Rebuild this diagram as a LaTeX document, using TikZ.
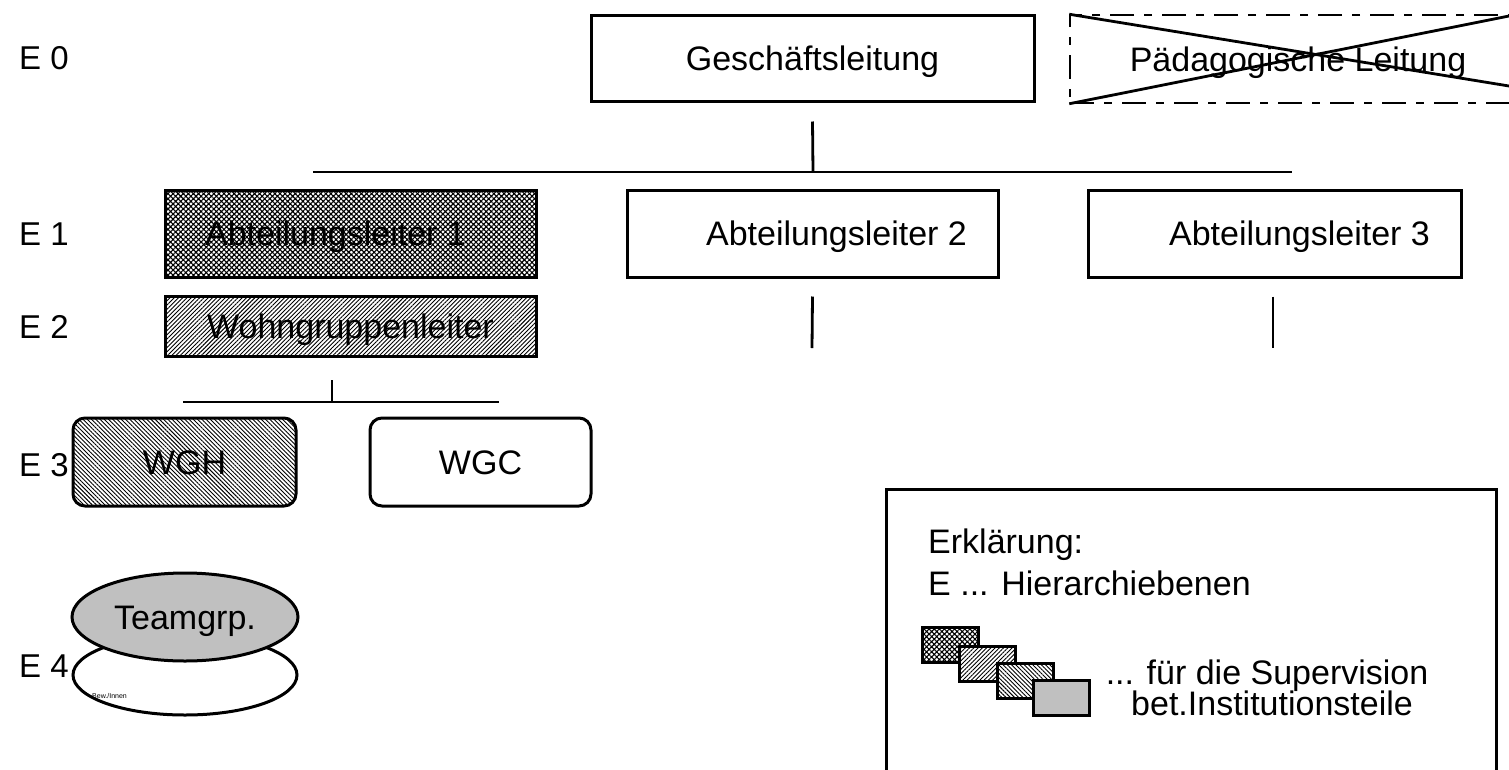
\documentclass[tikz,border=0pt]{standalone}
\usepackage{fontspec}
\setmainfont{Liberation Sans}
\usetikzlibrary{patterns.meta,shapes.geometric}
\definecolor{silver}{HTML}{C0C0C0}
\begin{document}
\begin{tikzpicture}[x=1pt,y=-1pt,
  every node/.style={font=\fontsize{34}{31}\selectfont, inner sep=0pt},
  box/.style={draw, line width=3pt, text height=24pt, text depth=0pt},
  conn/.style={line width=2.8pt},
  lvl/.style={anchor=base west, font=\fontsize{33}{31}\selectfont},
  xhatch/.style={pattern={Hatch[angle=45,distance=3.6pt,line width=1.1pt]}},
  nehatch/.style={pattern={Lines[angle=45,distance=3pt,line width=0.9pt]}},
  nwhatch/.style={pattern={Lines[angle=-45,distance=3pt,line width=0.9pt]}},
  swatch/.style={draw, line width=3pt, minimum width=56pt, minimum height=35pt},
  ]
\useasboundingbox (0,0) rectangle (1509,769);

% level labels
\node[lvl] (e0) at (19,69) {E 0};
\node[lvl] (e1) at (19,245) {E 1};
\node[lvl] (e2) at (19,338) {E 2};
\node[lvl] (e3) at (19,476) {E 3};
\node[lvl] (e4) at (19,677) {E 4};

% E0
\node[box, minimum width=443pt, minimum height=86pt] (gl) at (812.5,58) {Geschäftsleitung};
\node[box, line width=1.5pt, dash pattern=on 24pt off 10pt on 8pt off 10pt,
      minimum width=456pt, minimum height=88pt] (pl) at (1298,59) {Pädagogische Leitung};
\coordinate (x1) at (1509,86);
\coordinate (x2) at (1509,16);
\draw[conn] (pl.north west) -- (x1);
\draw[conn] (pl.south west) -- (x2);

% E1
\node[box, xhatch, minimum width=371pt, minimum height=87pt] (a1) at (350.5,233.5) {Abteilungsleiter 1\hspace*{30pt}};
\node[box, minimum width=371pt, minimum height=87pt] (a2) at (812.5,233.5) {\hspace*{48pt}Abteilungsleiter 2};
\node[box, minimum width=373pt, minimum height=87pt] (a3) at (1274.5,233.5) {\hspace*{50pt}Abteilungsleiter 3};

% connectors top
\coordinate (bus) at (813,172);
\coordinate (busL) at (313,172);
\coordinate (busR) at (1292,172);
\draw[conn] ([yshift=-19pt]gl.south) -- (bus);
\draw[conn] (busL) -- (busR);
\coordinate (a2d) at (812,348);
\coordinate (a3d) at (1273,348);
\draw[conn] ([yshift=-18pt]a2.south) -- (a2d);
\draw[conn] ([xshift=-1.5pt,yshift=-18pt]a3.south) -- (a3d);

% E2
\node[box, nehatch, minimum width=371pt, minimum height=60pt] (wgl) at (350.5,326) {Wohngruppenleiter};
\coordinate (wd) at (332,380);
\coordinate (wbus) at (332,402);
\coordinate (wbusL) at (183,402);
\coordinate (wbusR) at (499,402);
\draw[conn] (wd) -- (wbus);
\draw[conn] (wbusL) -- (wbusR);

% E3
\node[box, nwhatch, rounded corners=12pt, minimum width=223pt, minimum height=88pt] (wgh) at (184.5,462) {WGH};
\node[box, rounded corners=12pt, minimum width=221pt, minimum height=88pt] (wgc) at (480.5,462) {WGC};

% E4
\node[draw, ellipse, line width=3pt, minimum width=224pt, minimum height=80pt] (bew) at (185,675) {};
\node[font=\fontsize{7}{8}\selectfont, anchor=west] (bewtxt) at (92,696) {Bew./Innen};
\node[draw, ellipse, fill=silver, line width=3pt, minimum width=226pt, minimum height=88pt,
      text height=24pt, text depth=0pt] (tg) at (185,617) {Teamgrp.};

% legend
\node[draw, line width=3pt, minimum width=610pt, minimum height=340pt, anchor=north west] (leg) at (885,488) {};
\node[anchor=base west] (erk) at (928,553) {Erklärung:};
\node[anchor=base west] (ehier) at (928,595) {E ... Hierarchiebenen};
\node[swatch, preaction={fill=white}, xhatch] (s1) at (950,644.5) {};
\node[swatch, preaction={fill=white}, nehatch] (s2) at (987.5,663.5) {};
\node[swatch, preaction={fill=white}, nwhatch] (s3) at (1025,680.5) {};
\node[swatch, fill=silver] (s4) at (1061.5,698) {};
\node[anchor=base] (sup1) at (1267,684) {... für die Supervision};
\node[anchor=base] (sup2) at (1272,715) {bet.Institutionsteile};
\end{tikzpicture}
\end{document}
